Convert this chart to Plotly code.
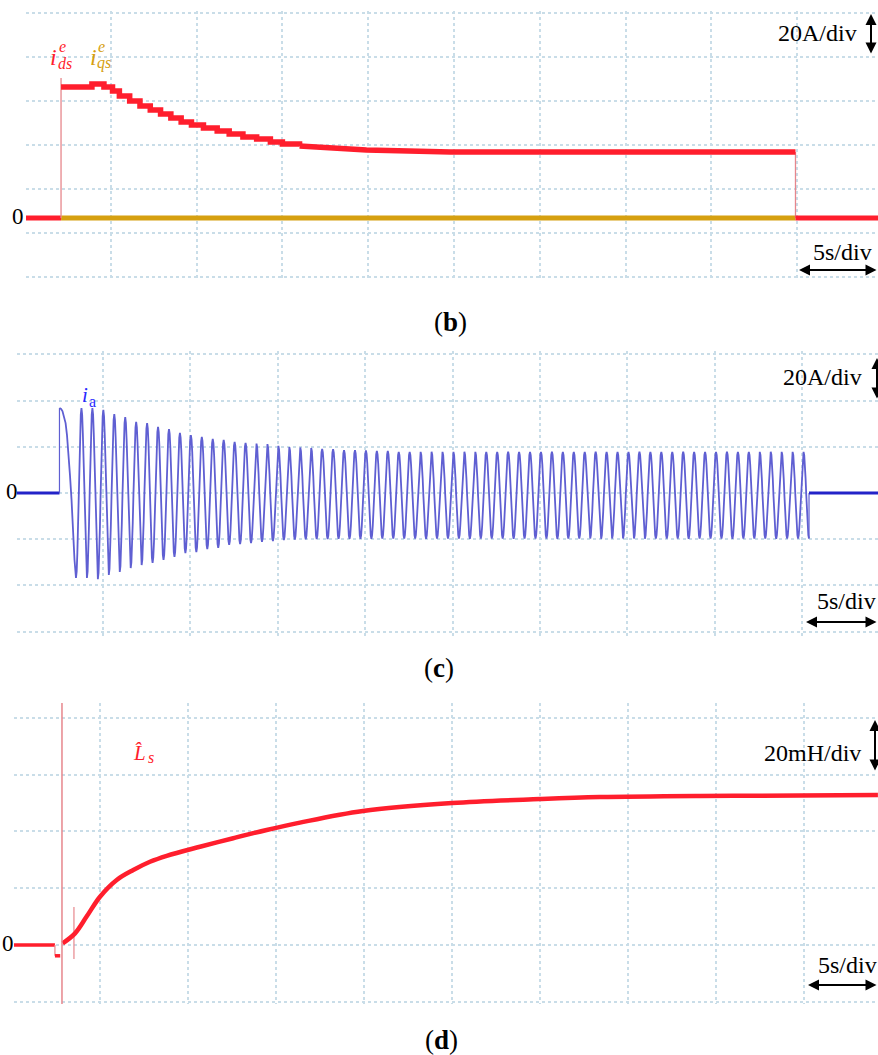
import math
import plotly.graph_objects as go

W, H = 878, 1055

# ---------------- data ----------------
# (b) synchronous-frame currents [A] vs time [s]
ids_step_t = [2.1, 3.6, 3.9, 4.4, 4.6, 5.1, 5.5, 6.1, 6.7, 7.3, 7.9, 8.5, 9.1, 9.7,
              10.4, 11.2, 11.9, 12.7, 13.5, 14.3, 15.0, 16.0]
ids_step_a = [59.5, 59.5, 60.9, 60.9, 59.5, 57.7, 55.5, 53.2, 50.9, 49.1, 47.3, 45.5, 43.6, 42.3,
              40.9, 39.5, 38.2, 36.8, 35.9, 34.5, 33.6, 32.7]
ids_tail_t = [16.0, 17.8, 19.9, 24.8, 30.0, 44.9]
ids_tail_a = [32.7, 31.8, 30.9, 30.0, 30.0, 30.0]
ids_overshoot = 63.6
iqs_t = [2.1, 44.9]
iqs_a = [0.0, 0.0]

# (c) phase current [A] vs time [s]
ia_t_on, ia_t_off = 2.51, 45.39
ia_start_t = [2.51, 2.60, 2.68, 2.77, 2.86, 2.94, 3.03, 3.11, 3.20, 3.28, 3.37]
ia_start_a = [36.8, 36.4, 35.5, 33.4, 30.3, 25.1, 17.7, 7.8, -3.0, -16.0, -29.0]
ia_first_trough_t = 3.455
ia_peaks = [36.8, 36.8, 36.0, 34.2, 32.9, 30.8, 30.3, 28.6, 27.7, 26.0,
            25.1, 24.3, 23.4, 23.0, 22.1, 21.7, 21.4, 21.2, 20.4, 19.9,
            19.7, 19.5, 19.1, 19.0, 18.6, 18.6, 18.4, 18.2, 18.2, 17.8,
            17.8, 17.8, 17.9, 17.8, 17.8, 17.9, 17.8, 17.8, 17.8, 17.9,
            17.8, 17.8, 17.8, 17.9, 17.8, 17.8, 17.8, 17.9, 17.8, 17.8,
            17.8, 17.9, 17.8, 17.8, 17.8, 17.9, 17.8, 17.8, 17.8, 17.9,
            17.8, 17.8, 17.8, 17.9, 17.8, 17.8, 17.8]
ia_troughs = [-36.8, -36.8, -37.3, -35.5, -34.2, -32.5, -31.2, -30.3, -29.0, -27.7,
              -26.0, -25.6, -24.3, -23.8, -22.5, -22.1, -21.7, -21.2, -20.8, -20.4,
              -20.2, -20.1, -20.0, -20.0, -19.9, -19.9, -19.8, -19.8, -19.7, -19.7,
              -19.7, -19.7, -19.8, -19.7, -19.7, -19.7, -19.8, -19.7, -19.7, -19.7,
              -19.8, -19.7, -19.7, -19.7, -19.8, -19.7, -19.7, -19.7, -19.8, -19.7,
              -19.7, -19.7, -19.8, -19.7, -19.7, -19.7, -19.8, -19.7, -19.7, -19.7,
              -19.8, -19.7, -19.7, -19.7, -19.8, -19.7, -19.7, -19.7]

# (d) estimated stator inductance [mH] vs time [s]
ls_pre_t = [2.44]
ls_dip_t = [2.44, 2.74]
ls_dip_mh = [-3.8, -3.8]
ls_marker_t = 2.84
ls_tick_t = 3.52
ls_tick_mh = [-4.9, 13.4]
ls_t = [2.88, 3.58, 4.24, 5.00, 5.95, 6.89, 7.84, 8.79, 10.68, 12.57, 14.47, 16.36,
        19.94, 25.0, 30.0, 33.4, 39.1, 44.8, 49.2]
ls_mh = [0.6, 4.1, 10.0, 17.0, 22.9, 26.4, 29.3, 31.4, 34.6, 37.6, 40.5, 43.1,
         47.2, 50.0, 51.4, 52.1, 52.5, 52.6, 52.8]

# ---------------- styling ----------------
RED = "#ff1e2d"
PINK = "#e7868c"
GOLD = "#d6a010"
BLUE_DARK = "#2323c8"
BLUE_TRACE = "#5f5fd2"
LABEL_BLUE = "#2a2aff"
GRID = "#c9dde8"
SERIF = "Liberation Serif"


def frame(left, right, top, bottom, x0_px, xdiv_px, zero_px, ydiv_px, ygrid_px,
          s_per_div=5.0, units_per_div=20.0):
    """Axis ranges/domains for one oscilloscope panel laid out in pixels."""
    xr = [(left - x0_px) / xdiv_px * s_per_div, (right - x0_px) / xdiv_px * s_per_div]
    yr = [(zero_px - bottom) / ydiv_px * units_per_div, (zero_px - top) / ydiv_px * units_per_div]
    ytick0 = (zero_px - ygrid_px) / ydiv_px * units_per_div
    return dict(xdom=[left / W, right / W], ydom=[1 - bottom / H, 1 - top / H],
                xr=xr, yr=yr, ytick0=ytick0)


FB = frame(26, 878, 11, 281, 25, 85.8, 218, 44.0, 277)
FC = frame(17, 878, 351, 636, 15.6, 87.4, 493, 46.17, 493)
FD = frame(14, 878, 703, 1004, 12, 88.0, 945, 56.8, 945)


def xaxis(f, anchor):
    return dict(domain=f["xdom"], range=f["xr"], anchor=anchor, tick0=0, dtick=5,
                showgrid=True, gridcolor=GRID, griddash="dot", gridwidth=1.5,
                zeroline=False, showticklabels=False, ticks="", showline=False, fixedrange=True)


def yaxis(f, anchor):
    return dict(domain=f["ydom"], range=f["yr"], anchor=anchor, tick0=f["ytick0"], dtick=20,
                showgrid=True, gridcolor=GRID, griddash="dot", gridwidth=1.5,
                zeroline=False, showticklabels=False, ticks="", showline=False, fixedrange=True)


fig = go.Figure()


def line(x, y, color, width, xa, ya, shape="linear"):
    fig.add_trace(go.Scatter(x=x, y=y, mode="lines", xaxis=xa, yaxis=ya, hoverinfo="skip",
                             line=dict(color=color, width=width, shape=shape), showlegend=False))


# ---- (b) ----
line([FB["xr"][0], ids_step_t[0]], [0, 0], RED, 5, "x", "y")
line(iqs_t, iqs_a, GOLD, 5, "x", "y")
line([ids_step_t[0], ids_step_t[0]], [0, ids_overshoot], PINK, 1.3, "x", "y")
line([ids_tail_t[-1], ids_tail_t[-1]], [ids_tail_a[-1], 0], PINK, 1.3, "x", "y")
line(ids_step_t, ids_step_a, RED, 5.5, "x", "y", shape="hv")
line(ids_tail_t, ids_tail_a, RED, 5.5, "x", "y")
line([ids_tail_t[-1], FB["xr"][1]], [0, 0], RED, 5, "x", "y")

# ---- (c) ----
line([FC["xr"][0], ia_t_on], [0, 0], BLUE_DARK, 3, "x2", "y2")
line([ia_t_on, ia_t_on], [0, ia_start_a[0]], BLUE_TRACE, 1.2, "x2", "y2")
period = (ia_t_off - ia_first_trough_t) / len(ia_peaks)
extremes_t, extremes_a = [], []
for k, tr in enumerate(ia_troughs):
    extremes_t.append(ia_first_trough_t + k * period)
    extremes_a.append(tr)
    if k < len(ia_peaks):
        extremes_t.append(ia_first_trough_t + (k + 0.5) * period)
        extremes_a.append(ia_peaks[k])
wave_t, wave_a = list(ia_start_t), list(ia_start_a)
for i in range(len(extremes_t) - 1):
    t0, t1 = extremes_t[i], extremes_t[i + 1]
    a0, a1 = extremes_a[i], extremes_a[i + 1]
    for j in range(8):
        ph = j / 8
        wave_t.append(t0 + (t1 - t0) * ph)
        wave_a.append(a0 + (a1 - a0) * (1 - math.cos(math.pi * ph)) / 2)
wave_t.append(extremes_t[-1])
wave_a.append(extremes_a[-1])
line(wave_t, wave_a, BLUE_TRACE, 1.8, "x2", "y2")
line([ia_t_off, ia_t_off], [ia_troughs[-1], 0], BLUE_TRACE, 1.2, "x2", "y2")
line([ia_t_off, FC["xr"][1]], [0, 0], BLUE_DARK, 3, "x2", "y2")

# ---- (d) ----
line([FD["xr"][0], ls_pre_t[0]], [0, 0], RED, 3.5, "x3", "y3")
line([ls_dip_t[0], ls_dip_t[0]], [0, ls_dip_mh[0]], PINK, 1.2, "x3", "y3")
line(ls_dip_t, ls_dip_mh, RED, 3.5, "x3", "y3")
line([ls_tick_t, ls_tick_t], ls_tick_mh, PINK, 1.2, "x3", "y3")
line(ls_t, ls_mh, RED, 4.5, "x3", "y3", shape="spline")
fig.add_shape(type="line", xref="x3", yref="y3 domain", x0=ls_marker_t, x1=ls_marker_t,
              y0=0, y1=1, line=dict(color=PINK, width=1.5))


# ---------------- text and scale arrows ----------------
def px(x, y):
    return x / W, 1 - y / H


def text(s, x, y, size, color="black", xanchor="center", family=SERIF):
    """Place text by its pixel centre (baseline sits ~0.34*size below it)."""
    X, Y = px(x, y)
    fig.add_annotation(text=s, x=X, y=Y, xref="paper", yref="paper", showarrow=False,
                       xanchor=xanchor, yanchor="middle", borderpad=0,
                       font=dict(family=family, size=size, color=color))


def arrow(x, y, dx, dy):
    X, Y = px(x, y)
    fig.add_annotation(text="", x=X, y=Y, xref="paper", yref="paper", ax=dx, ay=dy,
                       showarrow=True, arrowhead=2, arrowsize=1.1, arrowwidth=2,
                       arrowside="end+start", arrowcolor="black")


# zero markers
text("0", 25, 216, 23, xanchor="right")
text("0", 19, 492, 23, xanchor="right")
text("0", 15, 943, 23, xanchor="right")

# amplitude/time per division
text("20A/div", 817, 33, 24)
arrow(871, 14, 0, 41)
text("5s/div", 842, 252, 24)
arrow(799, 270, 86, 0)

text("20A/div", 822, 377, 24)
arrow(877, 358, 0, 42)
text("5s/div", 846, 601, 24)
arrow(806, 622, 86, 0)

text("20mH/div", 812, 753, 24)
arrow(875, 720, 0, 52)
text("5s/div", 847, 965, 24)
arrow(808, 985, 86, 0)

# trace names (stacked super/subscripts)
text("<i>i</i>", 49, 57, 24, RED, xanchor="left")
text("<i>e</i>", 58, 46, 16, RED, xanchor="left")
text("<i>ds</i>", 57, 64, 16, RED, xanchor="left")
text("<i>i</i>", 89, 57, 24, GOLD, xanchor="left")
text("<i>e</i>", 97, 46, 16, GOLD, xanchor="left")
text("<i>qs</i>", 96, 63, 16, GOLD, xanchor="left")

text("<i>i</i>", 81, 395, 21, LABEL_BLUE, xanchor="left")
text("a", 88, 402, 16, LABEL_BLUE, xanchor="left")

text("<i>L\u0302</i>", 132, 753, 21, RED, xanchor="left")
text("<i>s</i>", 147, 757, 16, RED, xanchor="left")

# panel captions
text("(<b>b</b>)", 450, 322, 27)
text("(<b>c</b>)", 439, 668, 27)
text("(<b>d</b>)", 441, 1040, 27)

fig.update_layout(
    width=W, height=H, margin=dict(l=0, r=0, t=0, b=0),
    paper_bgcolor="white", plot_bgcolor="white", showlegend=False,
    xaxis=xaxis(FB, "y"), yaxis=yaxis(FB, "x"),
    xaxis2=xaxis(FC, "y2"), yaxis2=yaxis(FC, "x2"),
    xaxis3=xaxis(FD, "y3"), yaxis3=yaxis(FD, "x3"),
)

fig.write_html("out.html", config={"displayModeBar": False})
